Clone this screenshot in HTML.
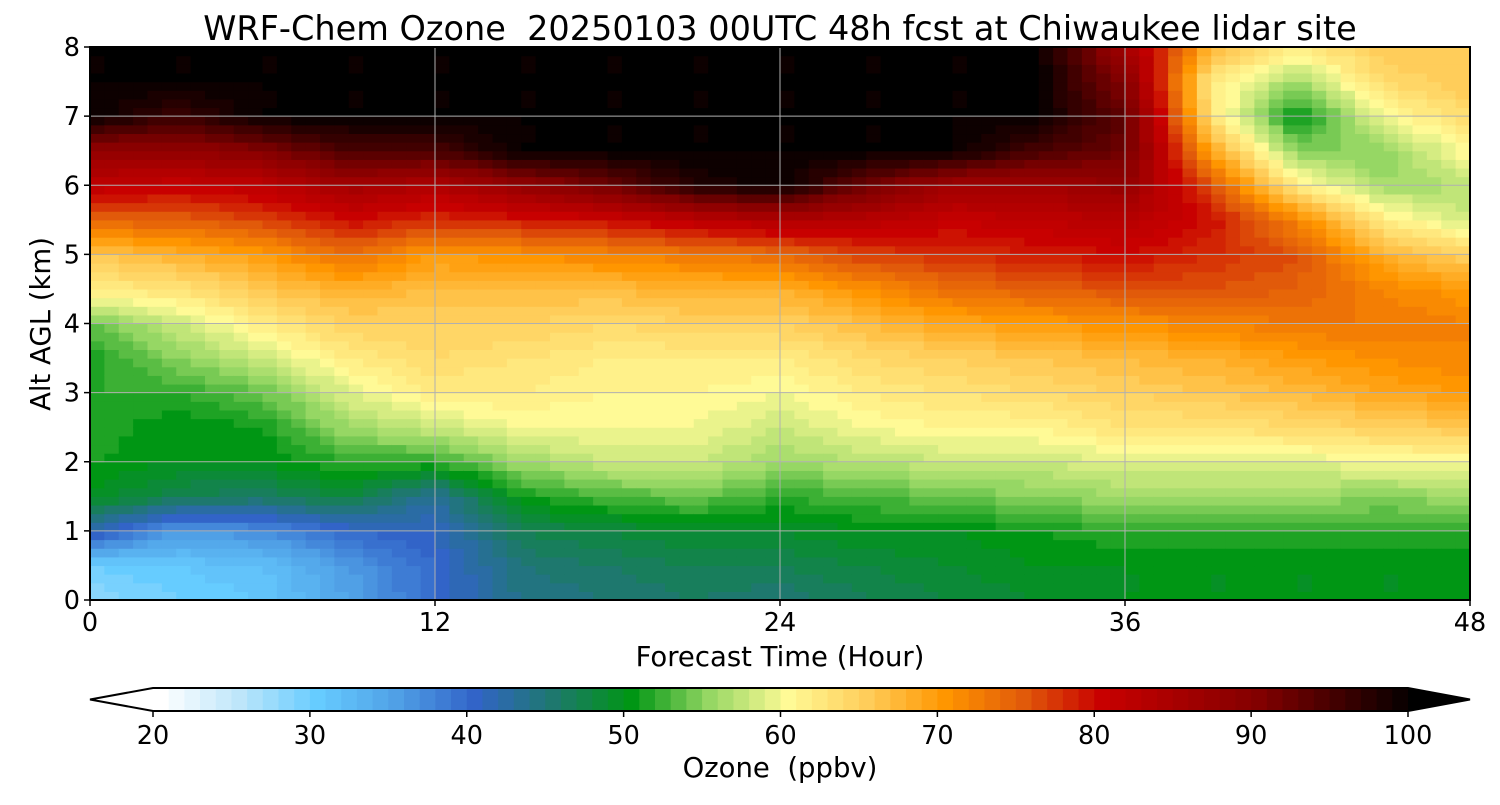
<!DOCTYPE html>
<html><head><meta charset="utf-8">
<style>
body{margin:0;background:#fff;font-family:"Liberation Sans","DejaVu Sans",sans-serif;}
svg text{font-family:"DejaVu Sans","Liberation Sans",sans-serif;fill:#000;white-space:pre;}
</style></head>
<body>
<svg id="chart" width="1500" height="800" xmlns="http://www.w3.org/2000/svg">
<text x="780" y="40" font-size="33.5" text-anchor="middle">WRF-Chem Ozone  20250103 00UTC 48h fcst at Chiwaukee lidar site</text>
<g id="cells"></g>
<g id="grid"></g>
<rect x="90" y="47" width="1380" height="553" fill="none" stroke="#000" stroke-width="2"/>
<g id="axes"></g>
<text x="780" y="666" font-size="27.5" text-anchor="middle">Forecast Time (Hour)</text>
<text transform="translate(50,324) rotate(-90)" font-size="27.5" text-anchor="middle">Alt AGL (km)</text>
<g id="cbar"></g>
<text x="780" y="777" font-size="27.5" text-anchor="middle">Ozone  (ppbv)</text>
</svg>
<script>
// Forecast hours (columns) and altitudes (rows, km)
const hours = [0,3,6,9,12,15,18,21,24,27,30,33,36,39,42,45,48];
const alts = [0,0.5,1,1.5,2,2.5,3,3.5,4,4.5,5,5.5,6,6.5,7,7.5,8];
// Ozone (ppbv), one array per forecast hour, from alt 0 to 8 km
const o3_h00 = [28,30,42,50,51,52,52,51,54,62,66,75,82,88,100,100,100];
const o3_h03 = [30,31,36,47,50,50,52,55,58,63,68,75,81,88,96,100,100];
const o3_h06 = [31,32,37,46,50,51,54,58,62,66,70,77,82,90,100,100,100];
const o3_h09 = [35,36,40,48,52,56,59,62,65,68,74,80,86,95,100,100,100];
const o3_h12 = [40,40,41,43,52,58,62,64,65,67,70,78,84,95,100,100,100];
const o3_h15 = [44,45,47,51,56,60,62,63,65,67,71,79,88,100,100,100,100];
const o3_h18 = [45,46,48,53,58,60,61,62,64,67,72,80,92,100,100,100,100];
const o3_h21 = [46,47,49,54,58,60,61,62,65,68,73,82,98,100,100,100,100];
const o3_h24 = [45,47,49,52,56,58,60,62,65,68,74,84,100,100,100,100,100];
const o3_h27 = [47,48,50,53,57,60,62,64,67,71,77,83,92,100,100,100,100];
const o3_h30 = [48,49,50,54,58,61,63,65,69,74,78,81,86,100,100,100,100];
const o3_h33 = [49,50,51,55,58,61,64,66,70,75,79,82,86,95,100,100,100];
const o3_h36 = [50,50,52,56,59,63,65,67,71,76,80,83,88,92,93,90,86];
const o3_h39 = [50,50,52,56,59,63,66,68,72,76,78,80,76,69,63,62,68];
const o3_h42 = [50,50,52,56,59,64,67,70,73,75,76,72,62,55,50,56,62];
const o3_h45 = [50,50,52,55,60,65,69,71,73,72,68,62,56,55,60,64,66];
const o3_h48 = [50,50,52,56,60,66,70,72,72,70,65,58,57,61,64,66,66];
const ozone = [o3_h00,o3_h03,o3_h06,o3_h09,o3_h12,o3_h15,o3_h18,o3_h21,o3_h24,o3_h27,o3_h30,o3_h33,o3_h36,o3_h39,o3_h42,o3_h45,o3_h48];
const xTicks = [0,12,24,36,48];
const yTicks = [0,1,2,3,4,5,6,7,8];
const cbTicks = [20,30,40,50,60,70,80,90,100];

const NS="http://www.w3.org/2000/svg";
const X0=90,X1=1470,Y0=600,Y1=47;
const xs=h=>X0+(h-0)/48*(X1-X0);
const ys=a=>Y0-(a/8)*(Y0-Y1);
const stops=[[20,[255,255,255]],[25,[190,230,250]],[30,[102,204,255]],[35,[80,160,230]],[40,[50,100,200]],[45,[30,120,110]],[50,[0,150,20]],[55,[150,215,100]],[60,[255,250,150]],[65,[255,205,90]],[70,[255,150,0]],[75,[225,90,10]],[80,[200,0,0]],[90,[130,0,0]],[100,[0,0,0]]];
function cmap(v){
  v=Math.floor(v);
  if(v<=stops[0][0]) return `rgb(${stops[0][1]})`;
  for(let i=1;i<stops.length;i++){
    if(v<=stops[i][0]){const [a,ca]=stops[i-1],[b,cb]=stops[i];const t=(v-a)/(b-a);
      return `rgb(${ca.map((c,k)=>Math.round(c+(cb[k]-c)*t)).join(',')})`;}
  }
  return 'rgb(0,0,0)';
}
function val(h,a){
  let i=Math.min(hours.length-2,Math.max(0,hours.findIndex((x,k)=>k<hours.length-1&&h>=x&&h<=hours[k+1])));
  let j=Math.min(alts.length-2,Math.max(0,alts.findIndex((x,k)=>k<alts.length-1&&a>=x&&a<=alts[k+1])));
  const tx=(h-hours[i])/(hours[i+1]-hours[i]),ty=(a-alts[j])/(alts[j+1]-alts[j]);
  const v00=ozone[i][j],v10=ozone[i+1][j],v01=ozone[i][j+1],v11=ozone[i+1][j+1];
  return v00*(1-tx)*(1-ty)+v10*tx*(1-ty)+v01*(1-tx)*ty+v11*tx*ty;
}
const cells=document.getElementById('cells');
const dh=0.5,da=0.125;
for(let h=0;h<48;h+=dh){for(let a=0;a<8;a+=da){
  const r=document.createElementNS(NS,'rect');
  
  
  const xa=xs(h),xb=xs(h+dh),ya=ys(a+da),yb=ys(a);
  r.setAttribute('x',xa);r.setAttribute('y',ya);
  r.setAttribute('width',xb-xa+0.6);r.setAttribute('height',yb-ya+0.6);
  r.setAttribute('fill',cmap(val(h+dh/2,a+da/2)));
  cells.appendChild(r);
}}
const grid=document.getElementById('grid'),axes=document.getElementById('axes');
function line(p,x1,y1,x2,y2,c,w){const l=document.createElementNS(NS,'line');l.setAttribute('x1',x1);l.setAttribute('y1',y1);l.setAttribute('x2',x2);l.setAttribute('y2',y2);l.setAttribute('stroke',c);l.setAttribute('stroke-width',w);p.appendChild(l);return l;}
function text(p,x,y,s,anchor,size){const t=document.createElementNS(NS,'text');t.setAttribute('x',x);t.setAttribute('y',y);t.setAttribute('font-size',size);t.setAttribute('text-anchor',anchor);t.textContent=s;p.appendChild(t);return t;}
xTicks.forEach(h=>{
  const g=line(grid,xs(h),Y1,xs(h),Y0,'#b0b0b0',1);
  
  
  line(axes,xs(h),Y0,xs(h),Y0+6,'#000',1.5);
  const t=text(axes,xs(h),631,String(h),'middle',25.5);
  
  
});
yTicks.forEach(a=>{
  const g=line(grid,X0,ys(a),X1,ys(a),'#b0b0b0',1);
  
  
  line(axes,X0-6,ys(a),X0,ys(a),'#000',1.5);
  const t=text(axes,80,ys(a)+9,String(a),'end',25.5);
  
  
});
// colorbar
const cb=document.getElementById('cbar');
const CB0=153,CB1=1408,CBT=688,CBB=711;
const cx=v=>CB0+(v-20)/80*(CB1-CB0);
for(let v=20;v<100;v++){
  const r=document.createElementNS(NS,'rect');
  
  
  r.setAttribute('x',cx(v));r.setAttribute('y',CBT);r.setAttribute('width',cx(v+1)-cx(v)+0.5);r.setAttribute('height',CBB-CBT);
  r.setAttribute('fill',cmap(v));cb.appendChild(r);
}
const mid=(CBT+CBB)/2;
const tl=document.createElementNS(NS,'polygon');


tl.setAttribute('points',`${CB0},${CBT} 90,${mid} ${CB0},${CBB}`);tl.setAttribute('fill','#fff');cb.appendChild(tl);
const tr=document.createElementNS(NS,'polygon');


tr.setAttribute('points',`${CB1},${CBT} 1470,${mid} ${CB1},${CBB}`);tr.setAttribute('fill','#000');cb.appendChild(tr);
const outline=document.createElementNS(NS,'polygon');
outline.setAttribute('points',`${CB0},${CBT} ${CB1},${CBT} 1470,${mid} ${CB1},${CBB} ${CB0},${CBB} 90,${mid}`);
outline.setAttribute('fill','none');outline.setAttribute('stroke','#000');outline.setAttribute('stroke-width','2');cb.appendChild(outline);
cbTicks.forEach(v=>{
  line(cb,cx(v),CBB,cx(v),CBB+6,'#000',1.5);
  const t=text(cb,cx(v),744,String(v),'middle',25.5);
  
  
});
</script>
</body></html>
